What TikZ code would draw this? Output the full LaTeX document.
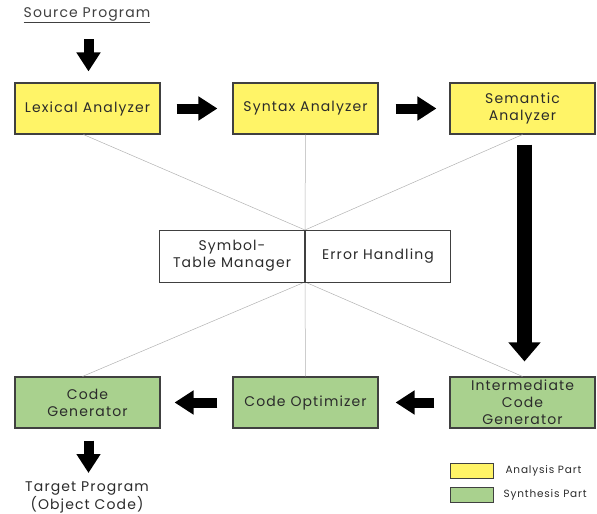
\documentclass[tikz,border=0pt]{standalone}
\usepackage{fontspec}
\setmainfont{Poppins}[LetterSpace=8]
\usetikzlibrary{arrows.meta}
\definecolor{anaY}{HTML}{FFF467}
\definecolor{synG}{HTML}{A9D18E}
\definecolor{edge}{HTML}{404040}
\definecolor{txt}{HTML}{2B2B2B}
\tikzset{
  phase/.style={draw=edge, line width=1.1pt, minimum width=145pt, minimum height=51pt,
    inner sep=0pt, align=center, text=txt, font=\fontsize{14}{16.8}\selectfont},
  anabox/.style={phase, fill=anaY},
  synbox/.style={phase, fill=synG},
  midbox/.style={draw=edge, line width=0.9pt, fill=white, minimum width=145pt, minimum height=52pt,
    inner sep=0pt, align=center, text=txt, font=\fontsize{14}{16.8}\selectfont},
  thin/.style={draw=gray!60, line width=0.5pt},
  blk/.style={line width=10pt, black, -{Triangle[width=23pt,length=19pt]}},
  bigblk/.style={line width=15pt, black, -{Triangle[width=31pt,length=19pt]}},
  plain/.style={text=txt, align=center, inner sep=0.5pt, font=\fontsize{14}{15.5}\selectfont},
  legtxt/.style={text=txt, anchor=west, font=\fontsize{10.5}{12}\selectfont},
  legbox/.style={draw=edge, line width=0.8pt, minimum width=43pt, minimum height=15pt, inner sep=0pt}
}
\begin{document}
\begin{tikzpicture}[x=1pt,y=-1pt]
\useasboundingbox (0,0) rectangle (597,514);
% phase boxes
\node[anabox] (lex) at (87.5,108.5) {Lexical Analyzer};
\node[anabox] (syn) at (305.5,108.5) {Syntax Analyzer};
\node[anabox] (sem) at (522.5,108.5) {Semantic\\Analyzer};
\node[synbox] (cg) at (87.5,402.5) {Code\\Generator};
\node[synbox] (co) at (305.5,402.5) {Code Optimizer};
\node[synbox] (icg) at (522.5,402.5) {Intermediate\\Code\\Generator};
% junction points of the middle boxes
\coordinate (jt) at (305,230);
\coordinate (jb) at (305,282);
% thin connector lines
\draw[thin] ([xshift=-4pt]lex.south) -- (jt);
\draw[thin] (syn.south) -- (jt);
\draw[thin] (sem.south) -- (jt);
\draw[thin] (jb) -- ([xshift=-5pt]cg.north);
\draw[thin] (jb) -- (co.north);
\draw[thin] (jb) -- (icg.north);
% middle boxes
\node[midbox, anchor=east] (sym) at (305,256) {Symbol-\\Table Manager};
\node[midbox, anchor=west] (err) at (305,256) {Error Handling};
% texts
\node[plain, text=edge] (src) at (87,15) {\underline{Source Program}};
\node[plain] (tgt) at (87,497.5) {Target Program\\(Object Code)};
% block arrows
\coordinate (srcend) at (88.5,39);
\coordinate (tgtend) at (88.5,473);
\draw[blk] (srcend) -- ([xshift=1pt,yshift=11pt]lex.north);
\draw[blk] ([xshift=16pt]lex.east) -- ([xshift=-15pt]syn.west);
\draw[blk] ([xshift=17pt]syn.east) -- ([xshift=-13pt]sem.west);
\draw[bigblk] ([xshift=2pt,yshift=-10pt]sem.south) -- ([xshift=2pt,yshift=15pt]icg.north);
\draw[blk] ([xshift=-15pt]icg.west) -- ([xshift=17pt]co.east);
\draw[blk] ([xshift=-15pt]co.west) -- ([xshift=14pt]cg.east);
\draw[blk] ([xshift=1pt,yshift=-12pt]cg.south) -- (tgtend);
% legend
\node[legbox, fill=anaY] (lega) at (471.5,470.5) {};
\node[legbox, fill=synG] (legs) at (471.5,494.5) {};
\node[legtxt] (legat) at (502,470.5) {Analysis Part};
\node[legtxt] (legst) at (500,494.5) {Synthesis Part};
\end{tikzpicture}
\end{document}
